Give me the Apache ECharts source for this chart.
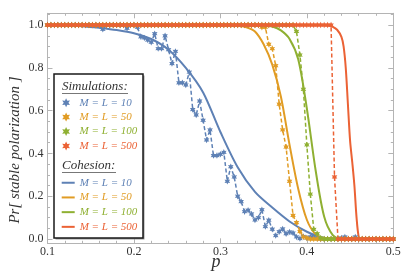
<!DOCTYPE html>
<html><head><meta charset="utf-8">
<script src="https://cdn.jsdelivr.net/npm/echarts@6/dist/echarts.min.js"></script>
<style>html,body{margin:0;padding:0;background:#fff}#c{width:407px;height:277px}</style>
</head><body><div id="c"></div>
<script>
// ---- data ----
const pGrid = [0.100,0.104,0.108,0.112,0.116,0.120,0.124,0.128,0.132,0.136,
0.140,0.144,0.148,0.152,0.156,0.160,0.164,0.168,0.172,0.176,
0.180,0.184,0.188,0.192,0.196,0.200,0.204,0.208,0.212,0.216,
0.220,0.224,0.228,0.232,0.236,0.240,0.244,0.248,0.252,0.256,
0.260,0.264,0.268,0.272,0.276,0.280,0.284,0.288,0.292,0.296,
0.300,0.304,0.308,0.312,0.316,0.320,0.324,0.328,0.332,0.336,
0.340,0.344,0.348,0.352,0.356,0.360,0.364,0.368,0.372,0.376,
0.380,0.384,0.388,0.392,0.396,0.400,0.404,0.408,0.412,0.416,
0.420,0.424,0.428,0.432,0.436,0.440,0.444,0.448,0.452,0.456,
0.460,0.464,0.468,0.472,0.476,0.480,0.484,0.488,0.492,0.496,
0.500];

const sim10 = [1,1,1,1,1,1,1,1,1,1,
1,1,1,1,1,1,0.98,1,1,1,
1,1,1,0.985,1,1,0.99,0.945,0.94,0.93,
0.92,0.96,0.89,0.89,0.95,0.885,0.82,0.877,0.73,0.73,
0.72,0.78,0.605,0.58,0.645,0.555,0.463,0.51,0.39,0.39,
0.396,0.405,0.27,0.338,0.29,0.20,0.175,0.128,0.135,0.117,
0.089,0.10,0.137,0.058,0.088,0.046,0.016,0.034,0.047,0.025,
0.033,0.028,0.01,0.002,0.012,0.005,0.01,0.012,0.003,0,
0,0,0,0,0,0.005,0.01,0,0,0.01,
0,0,0,0,0,0,0,0,0,0,0];

const sim50 = [1,1,1,1,1,1,1,1,1,1,
1,1,1,1,1,1,1,1,1,1,
1,1,1,1,1,1,1,1,1,1,
1,1,1,1,1,1,1,1,1,1,
1,1,1,1,1,1,1,1,1,1,
1,1,1,1,1,1,1,1,1,1,
1,1,0.99,0.99,0.91,0.89,0.81,0.63,0.51,0.43,
0.27,0.11,0.077,0.035,0.01,0.005,0,0,0,0,
0,0,0,0,0,0,0,0,0,0,
0,0,0,0,0,0,0,0,0,0,0];

const sim100 = [1,1,1,1,1,1,1,1,1,1,
1,1,1,1,1,1,1,1,1,1,
1,1,1,1,1,1,1,1,1,1,
1,1,1,1,1,1,1,1,1,1,
1,1,1,1,1,1,1,1,1,1,
1,1,1,1,1,1,1,1,1,1,
1,1,1,1,1,1,1,1,1,1,
1,1,0.97,0.86,0.70,0.44,0.21,0.045,0.025,0.005,
0,0,0,0,0,0,0,0,0,0,
0,0,0,0,0,0,0,0,0,0,0];

const sim500 = [1,1,1,1,1,1,1,1,1,1,
1,1,1,1,1,1,1,1,1,1,
1,1,1,1,1,1,1,1,1,1,
1,1,1,1,1,1,1,1,1,1,
1,1,1,1,1,1,1,1,1,1,
1,1,1,1,1,1,1,1,1,1,
1,1,1,1,1,1,1,1,1,1,
1,1,1,1,1,1,1,1,1,1,
1,1,1,0.29,0,0,0,0,0,0,
0,0,0,0,0,0,0,0,0,0,0];

const coh10P = [0.10,0.12,0.14,0.16,0.18,0.20,0.22,0.24,0.26,0.28,0.30,0.32,0.34,0.36,0.38,0.40,0.42,0.44,0.46,0.48,0.50];
const coh10  = [1.0,0.999,0.995,0.987,0.977,0.962,0.935,0.885,0.80,0.685,0.50,0.335,0.22,0.147,0.082,0.034,0.005,0.001,0,0,0];
const coh50P = [0.10,0.20,0.28,0.30,0.32,0.33,0.34,0.35,0.36,0.37,0.38,0.39,0.40,0.41,0.42,0.43,0.44,0.47,0.50];
const coh50  = [1,1,1,1,0.997,0.99,0.97,0.91,0.815,0.665,0.44,0.235,0.09,0.022,0.003,0,0,0,0];
const coh100P = [0.10,0.20,0.30,0.33,0.34,0.35,0.36,0.37,0.38,0.39,0.40,0.41,0.42,0.43,0.44,0.45,0.47,0.50];
const coh100  = [1,1,1,1,1,0.998,0.993,0.975,0.935,0.84,0.61,0.325,0.105,0.018,0,0,0,0];
const coh500P = [0.10,0.20,0.30,0.38,0.41,0.42,0.425,0.43,0.435,0.44,0.4425,0.445,0.4475,0.45,0.4525,0.455,0.4575,0.46,0.4625,0.465,0.47,0.48,0.50];
const coh500  = [1,1,1,1,1,1,0.998,0.992,0.978,0.945,0.9,0.8,0.63,0.46,0.36,0.25,0.1,0.01,0,0,0,0,0];

const xTickLabels = [0.1,0.2,0.3,0.4,0.5];
const xMinorTicks = [0.12,0.14,0.16,0.18,0.22,0.24,0.26,0.28,0.32,0.34,0.36,0.38,0.42,0.44,0.46,0.48];
const yTickLabels = [0,0.2,0.4,0.6,0.8,1.0];
const yMinorTicks = [0.05,0.1,0.15,0.25,0.3,0.35,0.45,0.5,0.55,0.65,0.7,0.75,0.85,0.9,0.95,1.05];
const sizeLabels = ['M = L = 10','M = L = 50','M = L = 100','M = L = 500'];

// ---- styling ----
const colors = ['#5E81B5','#E19C24','#8FB032','#EB6235'];
const serif = "'Liberation Serif','DejaVu Serif',serif";
const star = 'path://M0,-10L2.6,-4.5L8.66,-5L5.2,0L8.66,5L2.6,4.5L0,10L-2.6,4.5L-8.66,5L-5.2,0L-8.66,-5L-2.6,-4.5Z';
const frameColor = '#b4b4b4';

const zip = (xs, ys) => xs.map((x, i) => [x, ys[i]]);
const simData = [sim10, sim50, sim100, sim500];
const cohP = [coh10P, coh50P, coh100P, coh500P];
const cohV = [coh10, coh50, coh100, coh500];
const simNames = ['sim10','sim50','sim100','sim500'];
const cohNames = ['coh10','coh50','coh100','coh500'];

const series = [];
for (let k = 0; k < 4; k++) {
  series.push({
    name: cohNames[k], type: 'line', data: zip(cohP[k], cohV[k]),
    showSymbol: false, smooth: 0.3,
    lineStyle: {color: colors[k], width: 2}, itemStyle: {color: colors[k]},
    z: 2, silent: true
  });
}
for (let k = 0; k < 4; k++) {
  series.push({
    name: simNames[k], type: 'line', data: zip(pGrid, simData[k]),
    symbol: star, symbolSize: 6.5, symbolKeepAspect: true, showAllSymbol: true,
    lineStyle: {color: colors[k], width: 1.5, type: [4, 2.5]},
    itemStyle: {color: colors[k]},
    z: 3, silent: true
  });
}

const nameMap = {};
for (let k = 0; k < 4; k++) { nameMap[simNames[k]] = sizeLabels[k]; nameMap[cohNames[k]] = sizeLabels[k]; }

function mkAxis(dir, pos, values, len, showLine, labels) {
  const a = {
    type: 'value', position: pos, gridIndex: 0,
    min: dir === 'x' ? 0.1 : -0.02, max: dir === 'x' ? 0.5 : 1.055,
    axisLine: {show: showLine, onZero: false, lineStyle: {color: frameColor, width: 1}},
    axisTick: {show: true, inside: true, length: len, customValues: values, lineStyle: {color: frameColor, width: 1}},
    axisLabel: {show: false}, splitLine: {show: false}
  };
  if (labels) {
    a.axisLabel = {show: true, customValues: labels, formatter: v => Number(v).toFixed(1),
      color: '#333', fontFamily: serif, fontSize: 12, margin: dir === 'x' ? 3 : 4};
  }
  return a;
}

const legendBase = {
  orient: 'vertical', padding: 0, itemGap: 0, selectedMode: false,
  formatter: n => nameMap[n],
};

const option = {
  animation: false,
  backgroundColor: '#fff',
  grid: {left: 47.5, right: 13.7, top: 13.3, bottom: 33.7, outerBoundsMode: 'none', containLabel: false},
  xAxis: [
    mkAxis('x', 'bottom', xTickLabels, 5, true, xTickLabels),
    mkAxis('x', 'bottom', xMinorTicks, 2.5, false),
    mkAxis('x', 'top', xTickLabels, 5, true),
    mkAxis('x', 'top', xMinorTicks, 2.5, false)
  ],
  yAxis: [
    mkAxis('y', 'left', yTickLabels, 5, true, yTickLabels),
    mkAxis('y', 'left', yMinorTicks, 2.5, false),
    mkAxis('y', 'right', yTickLabels, 5, true),
    mkAxis('y', 'right', yMinorTicks, 2.5, false)
  ],
  legend: [
    Object.assign({}, legendBase, {
      left: 62.2, top: 95.5, itemWidth: 9, itemHeight: 9, icon: star,
      textStyle: {fontFamily: serif, fontStyle: 'italic', fontSize: 11, lineHeight: 14.4, padding: [0,0,0,4]},
      data: simNames.map((n, k) => ({name: n, textStyle: {color: colors[k]}}))
    }),
    Object.assign({}, legendBase, {
      left: 61.7, top: 175.4, itemWidth: 13, itemHeight: 2, icon: 'rect',
      textStyle: {fontFamily: serif, fontStyle: 'italic', fontSize: 11, lineHeight: 14.7},
      data: cohNames.map((n, k) => ({name: n, textStyle: {color: colors[k]}}))
    })
  ],
  graphic: [
    {type: 'rect', shape: {x: 55.5, y: 75.5, width: 89, height: 164}, style: {fill: '#9a9a9a'}, z: 5, silent: true},
    {type: 'rect', shape: {x: 54, y: 74, width: 89, height: 164}, style: {fill: '#fff', stroke: '#1a1a1a', lineWidth: 1.5}, z: 6, silent: true},
    {type: 'text', x: 62, y: 87, style: {text: 'Simulations:', font: "italic 13px 'Liberation Serif'", fill: '#333', textVerticalAlign: 'middle'}, z: 7},
    {type: 'line', shape: {x1: 62, y1: 93.5, x2: 128, y2: 93.5}, style: {stroke: '#777', lineWidth: 1}, z: 7},
    {type: 'text', x: 62, y: 166, style: {text: 'Cohesion:', font: "italic 13px 'Liberation Serif'", fill: '#333', textVerticalAlign: 'middle'}, z: 7},
    {type: 'line', shape: {x1: 62, y1: 172.5, x2: 116, y2: 172.5}, style: {stroke: '#777', lineWidth: 1}, z: 7},
    {type: 'text', x: 15, y: 150, rotation: Math.PI / 2,
      style: {text: 'Pr[ stable polarization ]', font: "italic 15px 'Liberation Serif'", fill: '#333', textAlign: 'center', textVerticalAlign: 'middle'}, z: 7},
    {type: 'text', x: 216, y: 262, style: {text: 'p', font: "italic 18px 'Liberation Serif'", fill: '#333', textAlign: 'center', textVerticalAlign: 'middle'}, z: 7}
  ],
  series: series
};
option.legend.forEach(l => l.z = 10);

const chart = echarts.init(document.getElementById('c'), null, {renderer: 'canvas'});
chart.setOption(option);
</script></body></html>
